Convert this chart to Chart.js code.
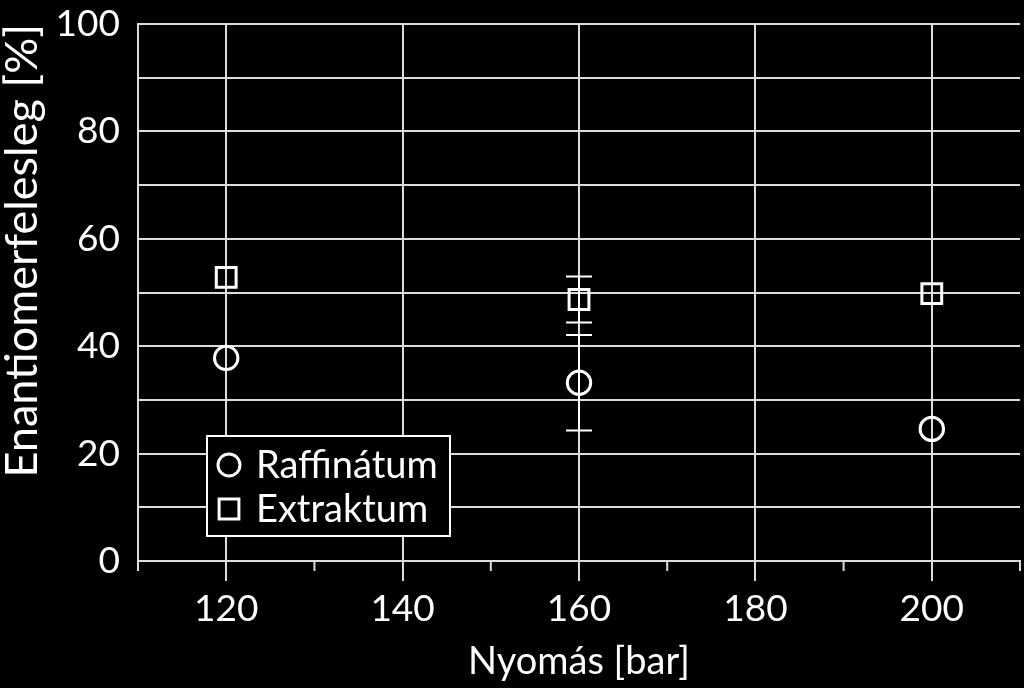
<!DOCTYPE html>
<html><head><meta charset="utf-8">
<script src="https://cdn.jsdelivr.net/npm/chart.js@4.4.1/dist/chart.umd.min.js"></script>
<style>html,body{margin:0;padding:0;background:#000;}#wrap{width:1024px;height:688px;position:relative;}canvas{display:block;}</style>
</head><body><div id="wrap"><canvas id="c"></canvas></div>
<script>
// ---- data ----
const pressures = [120, 160, 200];
const seriesNames = ['Raffinátum', 'Extraktum'];
const raffinatum = [37.8, 33.2, 24.6];
const extraktum = [52.8, 48.7, 49.8];
const raffinatumErr = [0, 8.9, 0];
const extraktumErr = [0, 4.3, 0];
const xTitle = 'Nyomás [bar]';
const yTitle = 'Enantiomerfelesleg [%]';
const xMin = 110, xMax = 210, xStep = 10, xLabelEvery = 20;
const yMin = 0, yMax = 100, yStep = 10, yLabelEvery = 20;

// ---- style ----
const FONT = 'Lato, "Liberation Sans", sans-serif';
const FW = '400';
const FS = 37;
const FG = '#ffffff';
const GRID = '#dcdcdc';

const errorBars = {
  id: 'errorBars',
  beforeDatasetsDraw(chart) {
    const ctx = chart.ctx, xs = chart.scales.x, ys = chart.scales.y;
    ctx.save();
    ctx.strokeStyle = FG; ctx.lineWidth = 2;
    chart.data.datasets.forEach(ds => {
      ds.errors.forEach((e, i) => {
        if (!e) return;
        const px = xs.getPixelForValue(ds.data[i].x);
        const yt = ys.getPixelForValue(ds.data[i].y + e);
        const yb = ys.getPixelForValue(ds.data[i].y - e);
        ctx.beginPath();
        ctx.moveTo(px, yt); ctx.lineTo(px, yb);
        ctx.moveTo(px - 13, yt); ctx.lineTo(px + 13, yt);
        ctx.moveTo(px - 13, yb); ctx.lineTo(px + 13, yb);
        ctx.stroke();
      });
    });
    ctx.restore();
  }
};

const minorTicks = {
  id: 'minorTicks',
  afterDraw(chart) {
    const ctx = chart.ctx, xs = chart.scales.x, a = chart.chartArea;
    ctx.save();
    ctx.strokeStyle = GRID; ctx.lineWidth = 2;
    xs.ticks.forEach(t => {
      if (t.value % xLabelEvery === 0) return;
      const px = xs.getPixelForValue(t.value);
      ctx.beginPath(); ctx.moveTo(px, a.bottom); ctx.lineTo(px, a.bottom + 10); ctx.stroke();
    });
    ctx.restore();
  }
};

const boxLegend = {
  id: 'boxLegend',
  afterDraw(chart) {
    const ctx = chart.ctx, a = chart.chartArea;
    const L = a.left + 69, T = a.top + 412, W = 243, H = 100;
    ctx.save();
    ctx.fillStyle = '#000'; ctx.fillRect(L, T, W, H);
    ctx.strokeStyle = FG; ctx.lineWidth = 2; ctx.strokeRect(L, T, W, H);
    chart.data.datasets.forEach((ds, i) => {
      const cy = T + 29 + i * 44;
      ctx.fillStyle = 'rgba(0,0,0,0)'; ctx.strokeStyle = FG; ctx.lineWidth = 3;
      Chart.helpers.drawPoint(ctx, {pointStyle: ds.pointStyle, radius: ds.pointStyle === 'rect' ? 14 : 11, borderWidth: 3, rotation: 0}, L + 22, cy);
      ctx.font = FW + ' ' + (FS + 1) + 'px ' + FONT; ctx.fillStyle = FG; ctx.textBaseline = 'alphabetic'; ctx.textAlign = 'left';
      ctx.fillText(ds.label, L + 49, cy + 13);
    });
    ctx.restore();
  }
};

const mk = (ys) => pressures.map((x, i) => ({x, y: ys[i]}));
new Chart(document.getElementById('c'), {
  type: 'scatter',
  data: {
    datasets: [
      {label: seriesNames[0], data: mk(raffinatum), errors: raffinatumErr, pointStyle: 'circle', pointRadius: 11.7, pointHoverRadius: 11.7, borderWidth: 3, borderColor: FG, backgroundColor: 'rgba(0,0,0,0)'},
      {label: seriesNames[1], data: mk(extraktum), errors: extraktumErr, pointStyle: 'rect', pointRadius: 14, pointHoverRadius: 14, borderWidth: 3, borderColor: FG, backgroundColor: 'rgba(0,0,0,0)'}
    ]
  },
  options: {
    animation: false, responsive: true, maintainAspectRatio: false,
    layout: {autoPadding: false, padding: {top: 24, right: 4, left: 0, bottom: 0}},
    plugins: {legend: {display: false}, tooltip: {enabled: false}},
    scales: {
      x: {
        type: 'linear', min: xMin, max: xMax,
        afterFit(s) { s.height = 127; s.paddingLeft = 0; s.paddingRight = 0; },
        ticks: {stepSize: xStep, autoSkip: false, maxRotation: 0, color: FG, font: {family: FONT, size: FS, weight: FW}, padding: 6,
          callback: v => (v % xLabelEvery === 0 ? String(v) : '')},
        grid: {color: c => (c.tick && c.tick.value % xLabelEvery === 0 ? GRID : 'rgba(0,0,0,0)'),
          tickColor: c => (c.tick && c.tick.value % xLabelEvery === 0 ? GRID : 'rgba(0,0,0,0)'),
          lineWidth: 2, tickLength: 20, tickWidth: 2},
        border: {display: true, color: GRID, width: 2},
        title: {display: true, text: xTitle, color: FG, font: {family: FONT, size: FS + 1, weight: FW}, padding: {top: 0, bottom: 3}}
      },
      y: {
        min: yMin, max: yMax,
        afterFit(s) { s.width = 138; s.paddingTop = 0; s.paddingBottom = 0; },
        ticks: {stepSize: yStep, color: FG, font: {family: FONT, size: FS, weight: FW}, padding: 18,
          callback: v => (v % yLabelEvery === 0 ? String(v) : '')},
        grid: {color: GRID, lineWidth: 2, drawTicks: false},
        border: {display: true, color: GRID, width: 2},
        title: {display: true, text: yTitle, align: 'end', color: FG, font: {family: FONT, size: 45, weight: FW, lineHeight: 1.0}, padding: 0}
      }
    }
  },
  plugins: [errorBars, minorTicks, boxLegend]
});
</script></body></html>
